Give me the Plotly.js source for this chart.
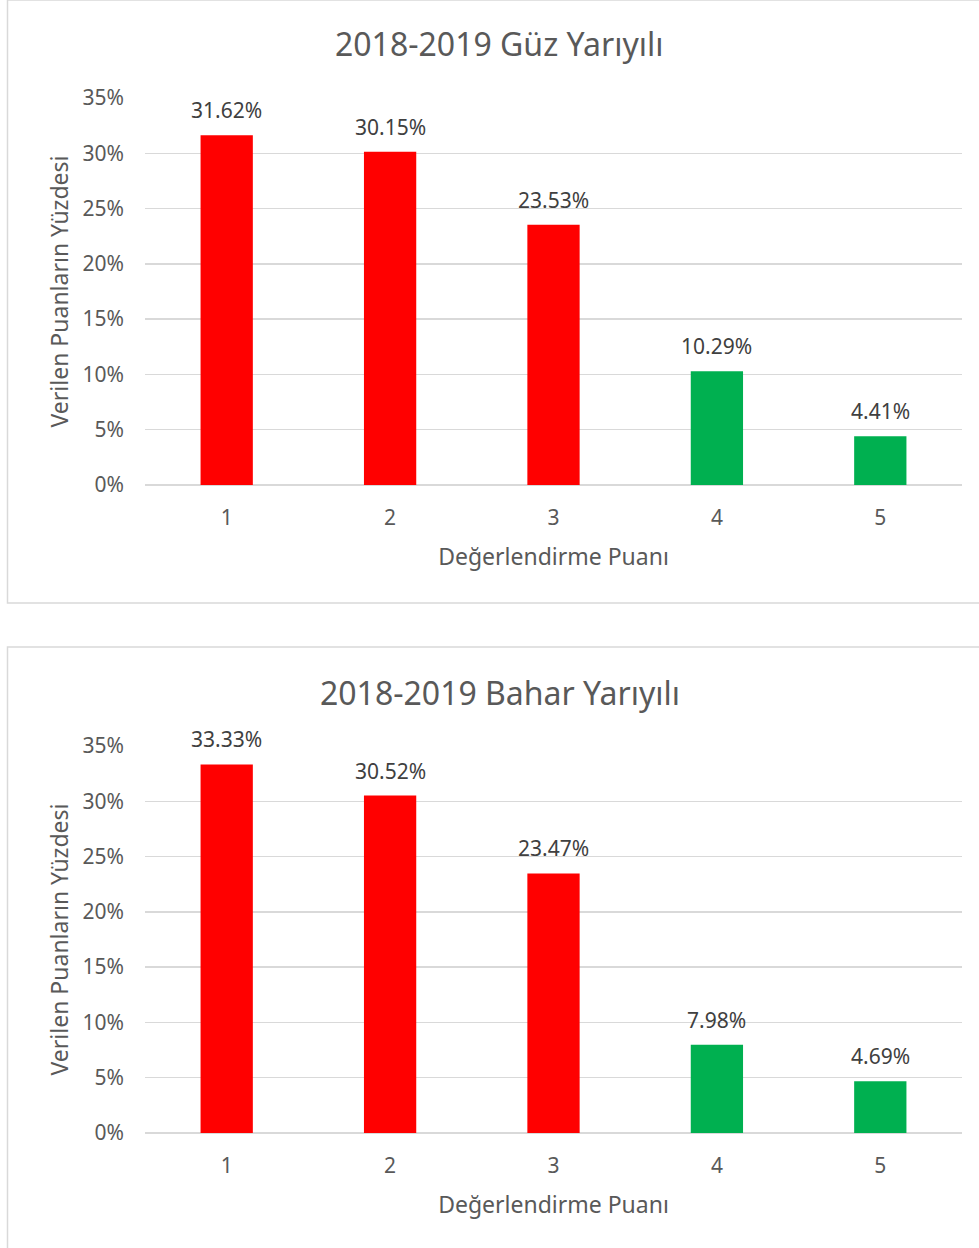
<!DOCTYPE html>
<html><head><meta charset="utf-8">
<script src="https://cdn.plot.ly/plotly-3.0.1.min.js"></script>
<style>html,body{margin:0;padding:0;background:#fff}#c{width:979px;height:1248px}</style>
</head><body><div id="c"></div>
<script>
const categories = ['1','2','3','4','5'];
const guzValues = [0.3162, 0.3015, 0.2353, 0.1029, 0.0441];
const baharValues = [0.3333, 0.3052, 0.2347, 0.0798, 0.0469];
const titles = ['2018-2019 Güz Yarıyılı', '2018-2019 Bahar Yarıyılı'];
const xTitle = 'Değerlendirme Puanı';
const yTitle = 'Verilen Puanların Yüzdesi';
const barColors = ['#FF0000','#FF0000','#FF0000','#00B050','#00B050'];

const W = 979, H = 1248;
const FONT = 'Noto Sans, sans-serif';
const GREY = '#595959';
const py = p => 1 - p / H;
const px = p => p / W;

const panels = [
  {vals: guzValues, top: 98, bot: 485, boxTop: 0, boxBot: 603, titleY: 44},
  {vals: baharValues, top: 746, bot: 1133, boxTop: 647, boxBot: 1260, titleY: 692}
];

const data = [];
const layout = {
  width: W, height: H, margin: {l:0,r:0,t:0,b:0},
  paper_bgcolor: '#fff', plot_bgcolor: '#fff', showlegend: false,
  font: {family: FONT, color: GREY},
  shapes: [], annotations: []
};

panels.forEach((p, i) => {
  const xa = i === 0 ? 'x' : 'x2', ya = i === 0 ? 'y' : 'y2';
  const xk = i === 0 ? 'xaxis' : 'xaxis2', yk = i === 0 ? 'yaxis' : 'yaxis2';
  data.push({type: 'bar', x: categories, y: p.vals, xaxis: xa, yaxis: ya,
    marker: {color: barColors}, width: 0.32, hoverinfo: 'none'});
  layout[xk] = {domain: [px(145), px(962)], anchor: ya, type: 'category',
    range: [-0.5, categories.length - 0.5],
    showgrid: false, showline: false, zeroline: false, ticks: '',
    ticklabelstandoff: 18,
    tickfont: {size: 21, color: GREY, family: FONT},
    title: {text: xTitle, font: {size: 23, color: GREY, family: FONT}, standoff: 18}};
  layout[yk] = {domain: [py(p.bot), py(p.top)], anchor: xa, range: [0, 0.35],
    dtick: 0.05, tickformat: '.0%', showgrid: true, gridcolor: '#D9D9D9', gridwidth: 1.5,
    zeroline: true, zerolinecolor: '#D9D9D9', zerolinewidth: 1.5, showline: false, ticks: '',
    ticklabelstandoff: 20,
    tickfont: {size: 21, color: GREY, family: FONT},
    title: {text: yTitle, font: {size: 23, color: GREY, family: FONT}, standoff: 7}};
  layout.shapes.push({type: 'rect', xref: 'paper', yref: 'paper',
    x0: px(7.5), x1: px(1000), y0: py(p.boxBot), y1: py(p.boxTop),
    line: {color: '#D9D9D9', width: 1.5}, fillcolor: 'rgba(0,0,0,0)', layer: 'below'});
  layout.annotations.push({xref: 'paper', yref: 'paper', x: px(500), y: py(p.titleY),
    xanchor: 'center', yanchor: 'middle', showarrow: false, text: titles[i],
    font: {size: 32, color: GREY, family: FONT}});
  categories.forEach((c, j) => {
    layout.annotations.push({xref: xa, yref: ya, x: j, y: p.vals[j], yanchor: 'bottom',
      yshift: 9, showarrow: false, text: (p.vals[j] * 100).toFixed(2) + '%',
      font: {size: 21, color: '#404040', family: FONT}});
  });
});

Plotly.newPlot('c', data, layout, {staticPlot: true});
</script></body></html>
